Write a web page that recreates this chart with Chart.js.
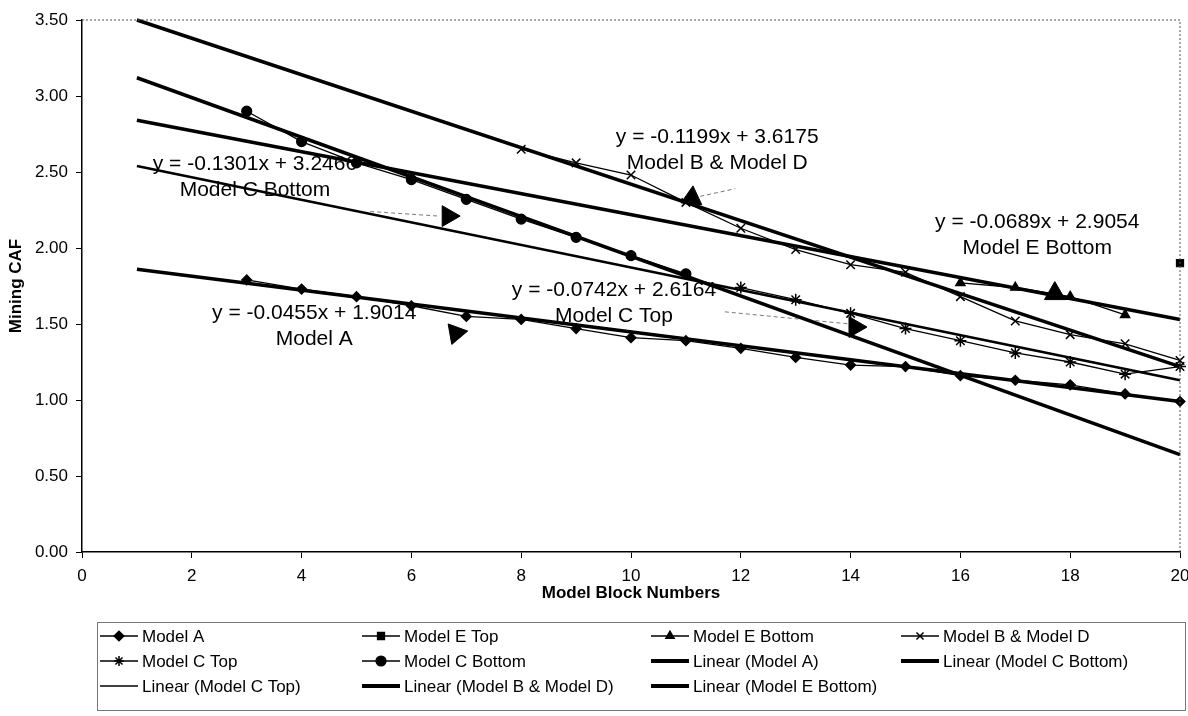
<!DOCTYPE html>
<html>
<head>
<meta charset="utf-8">
<script src="https://cdn.jsdelivr.net/npm/chart.js@4.4.0/dist/chart.umd.min.js"></script>
<style>
  html, body { margin: 0; padding: 0; background: #fff; overflow: hidden; }
  #wrap { width: 1188px; height: 716px; overflow: hidden; }
</style>
</head>
<body>
<div id="wrap"><canvas id="cafChart" width="1193" height="716"></canvas></div>
<script>
// block numbers and CAF values
var blocksA = [3, 4, 5, 6, 7, 8, 9, 10, 11, 12, 13, 14, 15, 16, 17, 18, 19, 20];
var modelA = [1.79, 1.73, 1.68, 1.62, 1.55, 1.53, 1.47, 1.41, 1.39, 1.34, 1.28, 1.23, 1.22, 1.16, 1.13, 1.10, 1.04, 0.99];

var blocksETop = [20];
var modelETop = [1.90];

var blocksEBottom = [16, 17, 18, 19];
var modelEBottom = [1.77, 1.74, 1.68, 1.56];

var blocksBD = [8, 9, 10, 11, 12, 13, 14, 15, 16, 17, 18, 19, 20];
var modelBD = [2.65, 2.56, 2.48, 2.30, 2.13, 1.99, 1.89, 1.84, 1.68, 1.52, 1.43, 1.37, 1.26];

var blocksCTop = [12, 13, 14, 15, 16, 17, 18, 19, 20];
var modelCTop = [1.74, 1.66, 1.57, 1.47, 1.39, 1.31, 1.25, 1.17, 1.22];

var blocksCBottom = [3, 4, 5, 6, 7, 8, 9, 10, 11];
var modelCBottom = [2.90, 2.70, 2.56, 2.45, 2.32, 2.19, 2.07, 1.95, 1.83];

// linear trendlines, value at block 1 and block 20
var trendBlocks = [1, 20];
var trendA = [1.86, 0.99];
var trendCTop = [2.54, 1.13];
var trendCBottom = [3.12, 0.64];
var trendBD = [3.50, 1.22];
var trendEBottom = [2.84, 1.53];

// equation labels (anchored in data units)
var eqText = ['y = -0.1301x + 3.2466', 'y = -0.1199x + 3.6175', 'y = -0.0689x + 2.9054', 'y = -0.0742x + 2.6164', 'y = -0.0455x + 1.9014'];
var eqName = ['Model C Bottom', 'Model B & Model D', 'Model E Bottom', 'Model C Top', 'Model A'];
var eqAtX = [3.15, 11.57, 17.4, 9.69, 4.23];
var eqAtY = [2.55, 2.73, 2.17, 1.72, 1.57];

// arrow heads pointing from the labels to the lines
var arrowX = [6.67, 6.81, 14.08, 17.72, 11.11];
var arrowY = [2.21, 1.44, 1.48, 1.70, 2.33];
var arrowTurn = [90, 200, 90, 0, 5];
var leadX = [[5.25, 6.5], [11.71, 13.99], [11.26, 11.9]];
var leadY = [[2.24, 2.21], [1.58, 1.50], [2.34, 2.39]];

var FONT = '"Liberation Sans", Arial, Helvetica, sans-serif';
Chart.defaults.font.family = FONT;
Chart.defaults.color = '#000';

function pts(xs, ys) {
  return xs.map(function (x, i) { return { x: x, y: ys[i] }; });
}

function series(label, xs, ys, style, r, extra) {
  var ds = {
    label: label,
    data: pts(xs, ys),
    borderColor: '#000',
    backgroundColor: '#000',
    borderWidth: 1.3,
    pointStyle: style,
    pointRadius: r,
    pointBorderWidth: 1.2,
    pointBackgroundColor: '#000',
    pointBorderColor: '#000',
    clip: false,
    legendWidth: 1.5
  };
  for (var k in extra) ds[k] = extra[k];
  return ds;
}

function trend(label, ys, w, lw) {
  return {
    label: label,
    data: pts(trendBlocks, ys),
    borderColor: '#000',
    borderWidth: w,
    pointRadius: 0,
    clip: false,
    legendWidth: lw
  };
}

var datasets = [
  series('Model A', blocksA, modelA, 'rectRot', 5),
  series('Model E Top', blocksETop, modelETop, 'rect', 5, { showLine: false }),
  series('Model E Bottom', blocksEBottom, modelEBottom, 'triangle', 5.5),
  series('Model B & Model D', blocksBD, modelBD, 'crossRot', 6, { pointBorderWidth: 1.5 }),
  series('Model C Top', blocksCTop, modelCTop, 'star', 6, { pointBorderWidth: 1.5 }),
  series('Model C Bottom', blocksCBottom, modelCBottom, 'circle', 5),
  trend('Linear (Model A)', trendA, 3.5, 4),
  trend('Linear (Model C Bottom)', trendCBottom, 3.5, 4),
  trend('Linear (Model C Top)', trendCTop, 2.5, 1.5),
  trend('Linear (Model B & Model D)', trendBD, 3.5, 4),
  trend('Linear (Model E Bottom)', trendEBottom, 3.5, 4)
];

datasets.push({
  label: 'arrows',
  data: pts(arrowX, arrowY),
  showLine: false,
  pointStyle: 'triangle',
  pointRadius: 12,
  pointRotation: arrowTurn,
  pointBackgroundColor: '#000',
  pointBorderColor: '#000',
  inLegend: false
});
leadX.forEach(function (lx, i) {
  datasets.push({
    label: 'leader',
    data: pts(lx, leadY[i]),
    borderColor: '#777',
    borderWidth: 1,
    borderDash: [4, 3],
    pointRadius: 0,
    inLegend: false
  });
});

var extras = {
  id: 'extras',
  afterDraw: function (chart) {
    var ctx = chart.ctx, area = chart.chartArea;
    var xs = chart.scales.x, ys = chart.scales.y;
    ctx.save();

    // dotted top / right frame
    ctx.strokeStyle = '#555';
    ctx.lineWidth = 1;
    ctx.setLineDash([2, 2]);
    ctx.beginPath();
    ctx.moveTo(area.left, area.top);
    ctx.lineTo(area.right, area.top);
    ctx.lineTo(area.right, area.bottom);
    ctx.stroke();
    ctx.setLineDash([]);

    // trendline equations
    ctx.fillStyle = '#000';
    ctx.font = '21px ' + FONT;
    ctx.textAlign = 'center';
    ctx.textBaseline = 'middle';
    eqText.forEach(function (t, i) {
      var px = xs.getPixelForValue(eqAtX[i]);
      var py = ys.getPixelForValue(eqAtY[i]);
      ctx.fillText(t, px, py);
      ctx.fillText(eqName[i], px, py + 26);
    });

    // legend box, 4 columns
    var colX = [100, 362, 651, 901];
    var rowY = [636, 661, 686];
    ctx.strokeStyle = '#777';
    ctx.lineWidth = 1;
    ctx.strokeRect(97.5, 622.5, 1088, 88);
    ctx.font = '17px ' + FONT;
    ctx.textAlign = 'left';
    var items = chart.data.datasets.filter(function (d) { return d.inLegend !== false; });
    items.forEach(function (d, i) {
      var x = colX[i % 4], y = rowY[Math.floor(i / 4)];
      ctx.strokeStyle = '#000';
      ctx.fillStyle = '#000';
      ctx.lineWidth = d.legendWidth;
      ctx.beginPath();
      ctx.moveTo(x, y);
      ctx.lineTo(x + 38, y);
      ctx.stroke();
      if (d.pointRadius > 0) {
        ctx.lineWidth = d.pointBorderWidth;
        Chart.helpers.drawPoint(ctx, {
          pointStyle: d.pointStyle,
          radius: Math.min(d.pointRadius, 5),
          rotation: 0,
          borderWidth: d.pointBorderWidth
        }, x + 19, y);
      }
      ctx.fillText(d.label, x + 42, y + 1);
    });
    ctx.restore();
  }
};

new Chart(document.getElementById('cafChart'), {
  type: 'line',
  data: { datasets: datasets },
  options: {
    responsive: false,
    animation: false,
    layout: { padding: { left: 0, right: 0, top: 20, bottom: 112 } },
    plugins: { legend: { display: false }, tooltip: { enabled: false } },
    scales: {
      x: {
        type: 'linear',
        min: 0,
        max: 20,
        ticks: { stepSize: 2, font: { size: 17 }, color: '#000', padding: 8 },
        grid: { drawOnChartArea: false, tickLength: 6, color: '#000' },
        border: { color: '#000', width: 1.5 },
        title: { display: true, text: 'Model Block Numbers', font: { size: 17, weight: 'bold' }, padding: { top: 0, bottom: 0 } },
        afterFit: function (s) {
          s.height = 52;
          s.paddingLeft = 0;
          s.paddingRight = 0;
        }
      },
      y: {
        min: 0,
        max: 3.5,
        ticks: {
          stepSize: 0.5,
          font: { size: 17 },
          color: '#000',
          padding: 8,
          callback: function (v) { return v.toFixed(2); }
        },
        grid: { drawOnChartArea: false, tickLength: 6, color: '#000' },
        border: { color: '#000', width: 1.5 },
        title: { display: true, text: 'Mining CAF', font: { size: 17, weight: 'bold' }, padding: { top: 6, bottom: 0 } },
        afterFit: function (s) { s.width = 82; }
      }
    }
  },
  plugins: [extras]
});
</script>
</body>
</html>
